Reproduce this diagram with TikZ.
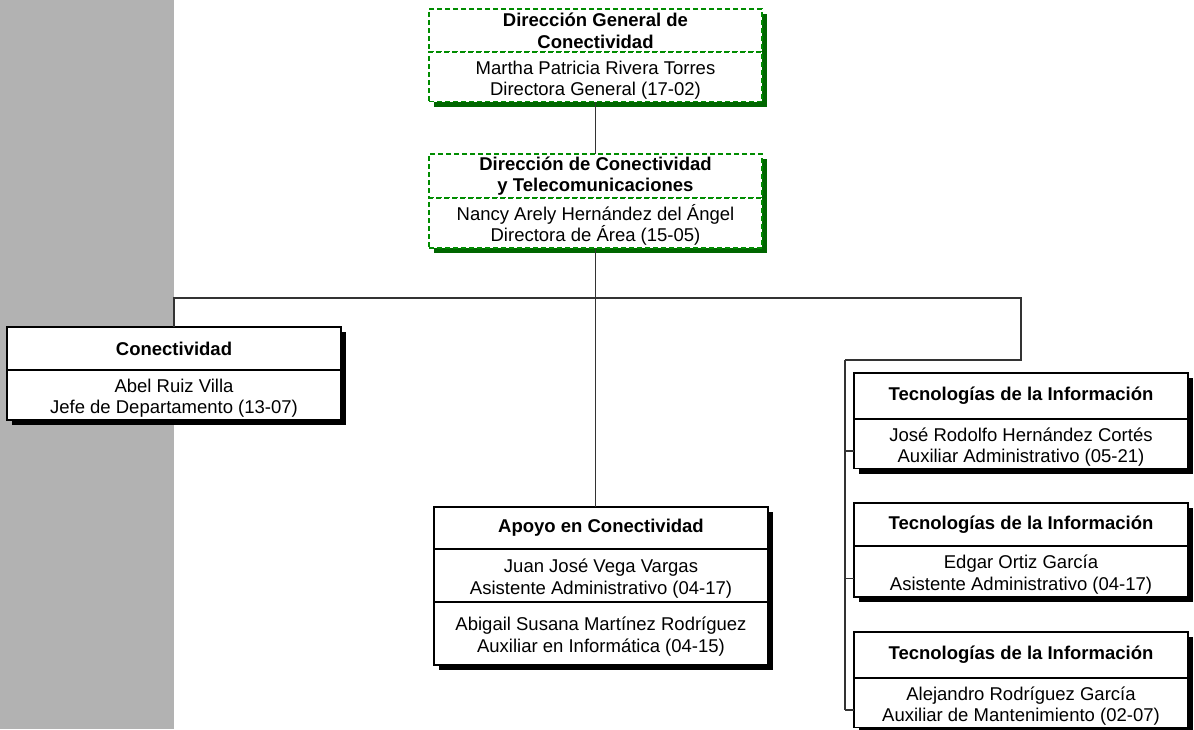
\documentclass[tikz,border=0pt]{standalone}
\usepackage{fontspec}
\setmainfont{Liberation Sans}
\usetikzlibrary{shadows}
\newcommand\lowerline{\rule{0pt}{20pt}}%正文第一行略向下

\begin{document}
\begin{tikzpicture}%organigrama de la Dirección de Conectividad
  [x=1pt,y=-1pt,
   % Styles 所有方框与连线的样式
   every node/.style={outer sep=0pt,inner sep=2pt,align=center,
     font=\fontsize{18.5}{21.7}\selectfont},
   org box/.style={draw=black,line width=1.2pt,fill=white,minimum width=334pt,
     drop shadow={shadow xshift=5pt,shadow yshift=-5pt,fill=black,opacity=1}},
   org title/.style={org box,font=\fontsize{18.5}{21.7}\selectfont\bfseries},
   dir box/.style={draw=dirgreen,line width=1.2pt,dash pattern=on 5pt off 3pt,
     fill=white,minimum width=333pt,
     drop shadow={shadow xshift=5pt,shadow yshift=-5pt,fill=dirshadow,opacity=1}},
   dir title/.style={dir box,font=\fontsize{18.5}{21.7}\selectfont\bfseries},
   link/.style={draw=black!80,line width=1.5pt}]

  % Colors
  \colorlet{bandgray}{black!30}
  \colorlet{dirgreen}{green!55!black}
  \colorlet{dirshadow}{green!40!black}

  % The graphic 左侧灰色条
  \useasboundingbox (0,0) rectangle (1194,729);
  \fill[bandgray] (0,0) rectangle (174,729);

  \coordinate (riser) at (1021,298);
  \coordinate (tiBus) at (845,360);

  % Direcciones 绿色虚线框
  \node[dir title,minimum height=43pt,anchor=north west] (dgcT) at (429,9)
    {Dirección General de\\Conectividad};
  \node[dir box,minimum height=48pt,anchor=north] (dgcB) at (dgcT.south)
    {\lowerline Martha Patricia Rivera Torres\\Directora General (17-02)};

  \node[dir title,minimum height=44pt,anchor=north west] (dctT) at (429,154)
    {Dirección de Conectividad\\y Telecomunicaciones};
  \node[dir box,minimum height=50pt,anchor=north] (dctB) at (dctT.south)
    {\lowerline Nancy Arely Hernández del Ángel\\Directora de Área (15-05)};

  \draw[link] (dgcB.south) -- (dctT.north);

  % Departamentos
  \node[org title,minimum height=43pt,anchor=north west] (conT) at (7,327)
    {Conectividad};
  \node[org box,minimum height=50pt,anchor=north] (conB) at (conT.south)
    {\lowerline Abel Ruiz Villa\\Jefe de Departamento (13-07)};

  \node[org title,minimum height=42pt,anchor=north west] (apoT) at (434,507)
    {Apoyo en Conectividad};
  \node[org box,minimum height=53pt,anchor=north] (apoB) at (apoT.south)
    {\lowerline Juan José Vega Vargas\\Asistente Administrativo (04-17)};
  \node[org box,minimum height=63pt,anchor=north] (apoC) at (apoB.south)
    {\lowerline Abigail Susana Martínez Rodríguez\\Auxiliar en Informática (04-15)};

  \draw[link] (dctB.south) -- (dctB.south |- apoT.north);
  \draw[link] (conT.north) |- (riser) -- (riser |- tiBus) -- (tiBus);%总线

  % Tecnologías de la Información: \i 编号, \ytop 上边, \hT/\hB 高度
  \foreach \i/\ytop/\hT/\hB/\who in
    {1/373/46/48/{José Rodolfo Hernández Cortés\\Auxiliar Administrativo (05-21)},
     2/503/43/51/{Edgar Ortiz García\\Asistente Administrativo (04-17)},
     3/632/46/49/{Alejandro Rodríguez García\\Auxiliar de Mantenimiento (02-07)}}
  {
    \node[org title,minimum height=\hT pt,anchor=north west] (ti\i T) at (854,\ytop)
      {Tecnologías de la Información};
    \node[org box,minimum height=\hB pt,anchor=north] (ti\i B) at (ti\i T.south)
      {\lowerline\who};
    \coordinate (br\i) at ([yshift=-7pt]ti\i B.west);
    \draw[link] (br\i -| tiBus) -- (br\i);
  }
  \draw[link] (tiBus) -- (tiBus |- br3);
\end{tikzpicture}
\end{document}
